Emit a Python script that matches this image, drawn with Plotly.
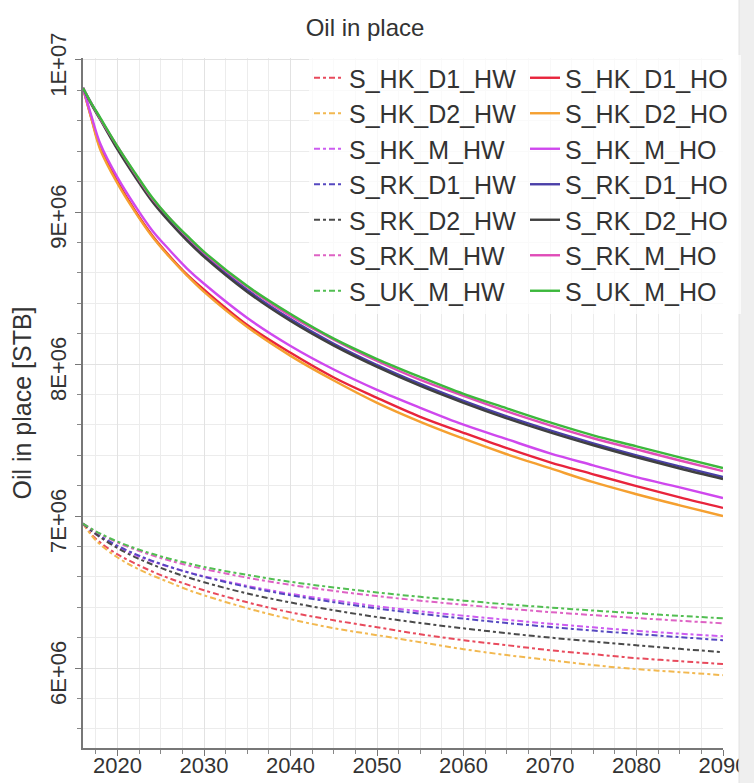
import plotly.graph_objects as go

years = [2016, 2017, 2018, 2020, 2022, 2024, 2026, 2028, 2030, 2035, 2040,
         2045, 2050, 2055, 2060, 2065, 2070, 2075, 2080, 2085, 2090]

# values in million STB
HK_D1_HO = [9.816, 9.613, 9.423, 9.200, 9.010, 8.846, 8.711, 8.590, 8.489, 8.257, 8.074,
            7.912, 7.778, 7.653, 7.548, 7.447, 7.354, 7.275, 7.197, 7.123, 7.054]
HK_D2_HO = [9.816, 9.607, 9.410, 9.187, 9.003, 8.839, 8.704, 8.584, 8.475, 8.244, 8.054,
            7.892, 7.745, 7.620, 7.509, 7.407, 7.315, 7.223, 7.144, 7.071, 7.001]
HK_M_HO = [9.816, 9.626, 9.449, 9.226, 9.043, 8.879, 8.750, 8.630, 8.528, 8.303, 8.119,
           7.964, 7.830, 7.712, 7.601, 7.506, 7.413, 7.334, 7.256, 7.189, 7.119]
RK_D1_HO = [9.816, 9.712, 9.613, 9.423, 9.246, 9.082, 8.947, 8.826, 8.718, 8.487, 8.296,
            8.134, 7.994, 7.870, 7.758, 7.656, 7.564, 7.479, 7.400, 7.327, 7.257]
RK_D2_HO = [9.816, 9.705, 9.607, 9.410, 9.233, 9.069, 8.934, 8.813, 8.705, 8.474, 8.283,
            8.121, 7.981, 7.856, 7.745, 7.643, 7.551, 7.466, 7.387, 7.313, 7.244]
RK_M_HO = [9.816, 9.712, 9.613, 9.430, 9.253, 9.089, 8.960, 8.839, 8.731, 8.506, 8.316,
           8.161, 8.020, 7.896, 7.791, 7.689, 7.597, 7.512, 7.439, 7.366, 7.296]
UK_M_HO = [9.816, 9.712, 9.620, 9.430, 9.259, 9.095, 8.960, 8.846, 8.738, 8.513, 8.329,
           8.167, 8.033, 7.915, 7.804, 7.709, 7.616, 7.531, 7.459, 7.386, 7.316]

HK_D1_HW = [6.951, 6.879, 6.826, 6.748, 6.689, 6.636, 6.590, 6.551, 6.512, 6.433, 6.367,
            6.315, 6.269, 6.223, 6.184, 6.151, 6.118, 6.092, 6.066, 6.046, 6.027]
HK_D2_HW = [6.951, 6.872, 6.813, 6.728, 6.663, 6.610, 6.564, 6.518, 6.479, 6.394, 6.322,
            6.263, 6.217, 6.171, 6.125, 6.086, 6.053, 6.020, 5.994, 5.974, 5.954]
HK_M_HW = [6.951, 6.902, 6.863, 6.797, 6.745, 6.702, 6.666, 6.633, 6.604, 6.541, 6.489,
           6.446, 6.407, 6.374, 6.345, 6.318, 6.292, 6.269, 6.246, 6.227, 6.210]
RK_D1_HW = [6.951, 6.907, 6.869, 6.805, 6.752, 6.706, 6.667, 6.632, 6.601, 6.534, 6.480,
            6.434, 6.393, 6.358, 6.326, 6.297, 6.271, 6.247, 6.225, 6.204, 6.184]
RK_D2_HW = [6.951, 6.903, 6.861, 6.790, 6.731, 6.682, 6.638, 6.600, 6.565, 6.491, 6.432,
            6.381, 6.336, 6.297, 6.262, 6.230, 6.201, 6.175, 6.150, 6.127, 6.105]
RK_M_HW = [6.951, 6.914, 6.881, 6.826, 6.781, 6.742, 6.708, 6.678, 6.652, 6.595, 6.548,
           6.508, 6.474, 6.444, 6.417, 6.392, 6.369, 6.349, 6.330, 6.312, 6.295]
UK_M_HW = [6.951, 6.916, 6.885, 6.832, 6.789, 6.752, 6.720, 6.692, 6.666, 6.613, 6.568,
           6.531, 6.498, 6.469, 6.444, 6.420, 6.399, 6.379, 6.361, 6.344, 6.328]

cases = ["HK_D1", "HK_D2", "HK_M", "RK_D1", "RK_D2", "RK_M", "UK_M"]
hw_series = [HK_D1_HW, HK_D2_HW, HK_M_HW, RK_D1_HW, RK_D2_HW, RK_M_HW, UK_M_HW]
ho_series = [HK_D1_HO, HK_D2_HO, HK_M_HO, RK_D1_HO, RK_D2_HO, RK_M_HO, UK_M_HO]
ho_colors = ["#e8243c", "#f5a030", "#cf48ee", "#4a3fa8", "#404040", "#e04cb8", "#3cb83c"]
hw_colors = ["#e84a5c", "#f2b850", "#cc5cf0", "#5548c0", "#4a4a4a", "#de62c4", "#52be52"]

yticks = [6e6, 7e6, 8e6, 9e6, 1e7]
yticktext = ["6E+06", "7E+06", "8E+06", "9E+06", "1E+07"]
xticks = [2020, 2030, 2040, 2050, 2060, 2070, 2080, 2090]

FONT = "Liberation Sans, Arial, sans-serif"

fig = go.Figure()
for name, hw, ho, chw, cho in zip(cases, hw_series, ho_series, hw_colors, ho_colors):
    fig.add_trace(go.Scatter(
        x=years, y=[v * 1e6 for v in hw], name=f"S_{name}_HW", mode="lines",
        line=dict(color=chw, width=2, dash="6px,3px,3px,3px", shape="spline")))
    fig.add_trace(go.Scatter(
        x=years, y=[v * 1e6 for v in ho], name=f"S_{name}_HO", mode="lines",
        line=dict(color=cho, width=2.4, shape="spline")))

fig.update_layout(
    width=754, height=783,
    margin=dict(l=83, r=31, t=58, b=35, autoexpand=False),
    paper_bgcolor="white", plot_bgcolor="white",
    font=dict(family=FONT, color="#333333", size=22),
    title=dict(text="Oil in place", x=365 / 754, xref="container", xanchor="center",
               y=1 - 28 / 783, yref="container", yanchor="middle",
               font=dict(size=24, color="#333333", family=FONT)),
    showlegend=True,
    legend=dict(orientation="h", x=(309 - 83) / 640, xanchor="left",
                y=1 + 3 / 690, yanchor="top",
                entrywidth=171, entrywidthmode="pixels",
                bgcolor="rgba(255,255,255,0.75)", borderwidth=0,
                font=dict(size=25, color="#333333", family=FONT),
                tracegroupgap=0, itemwidth=30),
    shapes=[dict(type="rect", xref="paper", yref="paper",
                 x0=(739 - 83) / 640, x1=(770 - 83) / 640, y0=-0.2, y1=1.2,
                 fillcolor="#efefef", line=dict(color="#e2e2e2", width=1), layer="above")],
)

fig.update_xaxes(
    range=[2016, 2090], tickmode="array", tickvals=xticks, automargin=False,
    ticks="outside", ticklen=6, tickcolor="#777", tickfont=dict(size=22, color="#333"),
    ticklabelstandoff=-9,
    showline=True, linecolor="#777", linewidth=1.5,
    showgrid=True, gridcolor="#e2e2e2", gridwidth=1, zeroline=False,
    minor=dict(tickmode="linear", tick0=2015, dtick=2.5, ticks="outside", ticklen=4,
               tickcolor="#888", showgrid=True, gridcolor="#ececec", gridwidth=1),
)
fig.update_yaxes(
    range=[5.475e6, 1.0013e7], tickmode="array", tickvals=yticks, ticktext=yticktext,
    automargin=False, ticklabelshift=8,
    tickangle=-90, ticks="outside", ticklen=6, tickcolor="#777",
    tickfont=dict(size=22, color="#333"),
    showline=True, linecolor="#777", linewidth=1.5,
    showgrid=True, gridcolor="#e2e2e2", gridwidth=1, zeroline=False,
    minor=dict(tickmode="linear", tick0=0, dtick=2e5, ticks="outside", ticklen=4,
               tickcolor="#888", showgrid=True, gridcolor="#ececec", gridwidth=1),
    title=dict(text="Oil in place [STB]", font=dict(size=25, color="#333", family=FONT),
               standoff=8),
)

fig.write_html("out.html")
